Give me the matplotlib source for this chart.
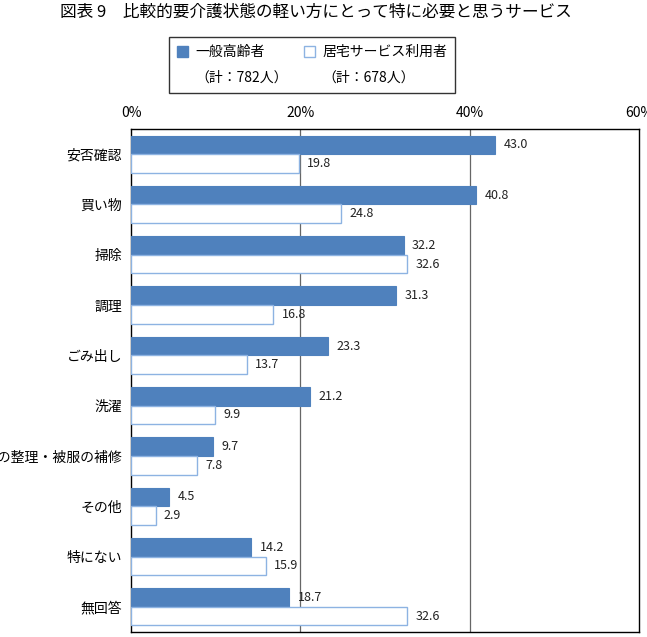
import matplotlib
matplotlib.use("Agg")
import matplotlib.pyplot as plt
from matplotlib.patches import Patch
import numpy as np

plt.rcParams['font.family'] = ['Noto Sans CJK JP', 'DejaVu Sans']

# data
categories = ["安否確認", "買い物", "掃除", "調理", "ごみ出し", "洗濯",
              "衣類の整理・被服の補修", "その他", "特にない", "無回答"]
general = [43.0, 40.8, 32.2, 31.3, 23.3, 21.2, 9.7, 4.5, 14.2, 18.7]
home_service = [19.8, 24.8, 32.6, 16.8, 13.7, 9.9, 7.8, 2.9, 15.9, 32.6]
series_names = ["一般高齢者", "居宅サービス利用者"]
series_counts = [782, 678]
xticks = [0, 20, 40, 60]

blue = "#4F81BD"
edge_light = "#8DB3E2"

fig = plt.figure(figsize=(6.47, 6.37), dpi=100)
ax = fig.add_axes([131/647, 1 - 632/637, 508/647, 503/637])

y = np.arange(len(categories))
h = 0.37
ax.barh(y - h/2, general, height=h, color=blue, edgecolor=blue, linewidth=0.8, zorder=3)
ax.barh(y + h/2, home_service, height=h, color="white", edgecolor=edge_light, linewidth=1.0, zorder=3)

for yi, v in zip(y, general):
    ax.annotate(f"{v:.1f}", (v, yi - h/2), xytext=(6, 0), textcoords="offset points",
                va="center", ha="left", fontsize=9, color="#222222")
for yi, v in zip(y, home_service):
    ax.annotate(f"{v:.1f}", (v, yi + h/2), xytext=(6, 0), textcoords="offset points",
                va="center", ha="left", fontsize=9, color="#222222")

ax.set_xlim(0, 60)
ax.set_ylim(len(categories) - 0.5, -0.5)
ax.set_xticks(xticks)
ax.set_xticklabels([f"{t}%" for t in xticks], fontsize=10)
ax.xaxis.tick_top()
ax.set_yticks(y)
ax.set_yticklabels(categories, fontsize=10)
ax.tick_params(axis='y', length=0, pad=6.5)
ax.tick_params(axis='x', length=0, pad=6.5)
for x in xticks[1:-1]:
    ax.axvline(x, color="#666666", linewidth=0.9, zorder=1)
for s in ax.spines.values():
    s.set_color("black")
    s.set_linewidth(1.0)

fig.text(316/647, 1 - 12/637, "図表 9　比較的要介護状態の軽い方にとって特に必要と思うサービス",
         ha="center", va="center", fontsize=12)

# legend: names on first row, counts on second
handles = [Patch(facecolor=blue, edgecolor=blue),
           Patch(facecolor="none", edgecolor="none"),
           Patch(facecolor="white", edgecolor=edge_light),
           Patch(facecolor="none", edgecolor="none")]
labels = [series_names[0], f"（計：{series_counts[0]}人）",
          series_names[1], f"（計：{series_counts[1]}人）"]
leg = fig.legend(handles, labels, ncol=2, loc="center",
                 bbox_to_anchor=(312/647, 1 - 65/637), fontsize=10,
                 frameon=True, fancybox=False, edgecolor="black",
                 handlelength=0.8, handleheight=0.8, handletextpad=0.5,
                 labelspacing=0.85, columnspacing=1.2, borderpad=0.55,
                 borderaxespad=0)
leg.get_frame().set_linewidth(1.0)

fig.savefig("out.png", dpi=100)
